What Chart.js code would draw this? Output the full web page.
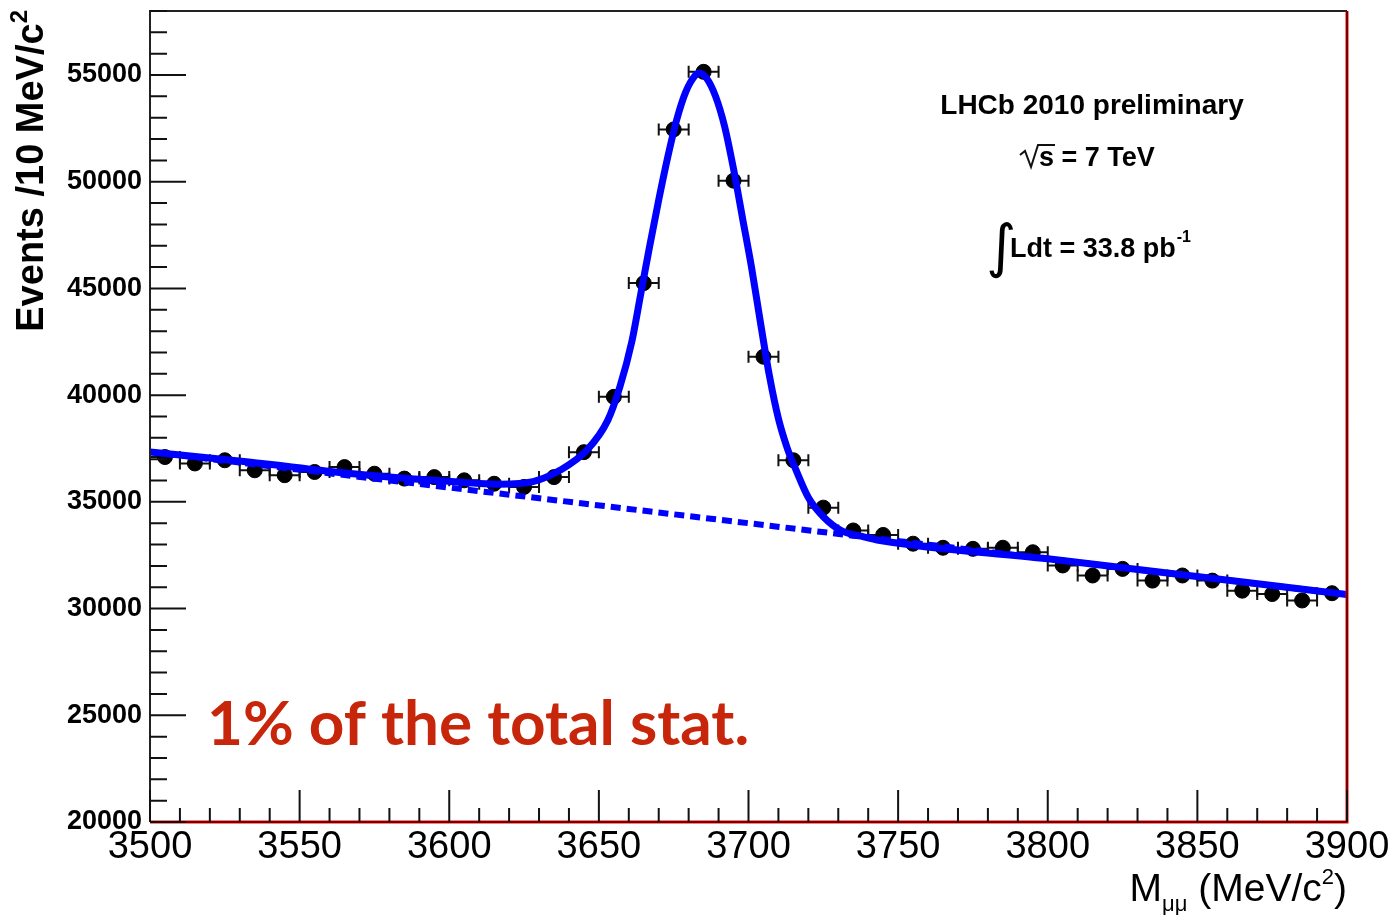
<!DOCTYPE html>
<html>
<head>
<meta charset="utf-8">
<script src="https://cdn.jsdelivr.net/npm/chart.js@4.4.1/dist/chart.umd.min.js"></script>
<style>
  body { margin: 0; background: #fff; }
  #wrap { width: 1396px; height: 915px; position: relative; }
</style>
</head>
<body>
<div id="wrap"><canvas id="massChart"></canvas></div>
<script>
// data (bin centres, 10 MeV bins)
const massBins = [3505, 3515, 3525, 3535, 3545, 3555, 3565, 3575, 3585, 3595,
                  3605, 3615, 3625, 3635, 3645, 3655, 3665, 3675, 3685, 3695,
                  3705, 3715, 3725, 3735, 3745, 3755, 3765, 3775, 3785, 3795,
                  3805, 3815, 3825, 3835, 3845, 3855, 3865, 3875, 3885, 3895];
const events = [37100, 36800, 36950, 36480, 36250, 36400, 36630, 36320, 36090, 36160,
                36010, 35850, 35700, 36160, 37330, 39920, 45250, 52450, 55150, 50050,
                41800, 36950, 34730, 33660, 33450, 33040, 32850, 32800, 32850, 32640,
                32020, 31550, 31860, 31310, 31550, 31310, 30840, 30680, 30380, 30720];

// total fit curve
const fitMass = [3500, 3533, 3567, 3595, 3617, 3628, 3637, 3646, 3653, 3657,
                 3661, 3664, 3667, 3670, 3673, 3676, 3679, 3682, 3683.5, 3686,
                 3689, 3692, 3695, 3698, 3701, 3704, 3707, 3710, 3713, 3716,
                 3720, 3725, 3731, 3738, 3744, 3800, 3900];
const fitEvents = [37340, 36870, 36330, 36010, 35830, 35950, 36480, 37420, 38830, 40380,
                   42500, 44750, 47000, 49150, 51150, 52900, 54200, 54950, 55100, 54850,
                   54000, 52600, 50600, 48300, 46000, 43400, 40900, 38900, 37500, 36450,
                   35200, 34300, 33650, 33380, 33190, 32330, 30660];

// background component (dashed)
const bkgMass = [3500, 3900];
const bkgEvents = [37340, 30660];

const xTicks = [3500, 3550, 3600, 3650, 3700, 3750, 3800, 3850, 3900];
const yTicks = [20000, 25000, 30000, 35000, 40000, 45000, 50000, 55000];

const BLUE = '#0000ff';
const RED = '#c8260a';

const points = massBins.map((m, i) => ({ x: m, y: events[i] }));
const fitLine = fitMass.map((m, i) => ({ x: m, y: fitEvents[i] }));
const bkgLine = bkgMass.map((m, i) => ({ x: m, y: bkgEvents[i] }));

// error bars, frame, inward ticks and the text labels
const rootStyle = {
    id: 'rootStyle',
    beforeDatasetsDraw(chart) {
        const { ctx, scales: { x, y } } = chart;
        ctx.save();
        ctx.strokeStyle = '#111';
        ctx.lineWidth = 2;
        massBins.forEach((m, i) => {
            const x0 = x.getPixelForValue(m - 5);
            const x1 = x.getPixelForValue(m + 5);
            const py = y.getPixelForValue(events[i]);
            ctx.beginPath();
            ctx.moveTo(x0, py); ctx.lineTo(x1, py);
            ctx.moveTo(x0, py - 6); ctx.lineTo(x0, py + 6);
            ctx.moveTo(x1, py - 6); ctx.lineTo(x1, py + 6);
            ctx.stroke();
        });
        ctx.restore();
    },
    afterDraw(chart) {
        const { ctx, chartArea: a, scales: { x, y } } = chart;
        ctx.save();

        // frame
        ctx.strokeStyle = '#222';
        ctx.lineWidth = 2;
        ctx.beginPath();
        ctx.moveTo(a.left, a.bottom); ctx.lineTo(a.left, a.top); ctx.lineTo(a.right, a.top);
        ctx.stroke();
        ctx.strokeStyle = '#f00000';
        ctx.lineWidth = 3;
        ctx.beginPath();
        ctx.moveTo(a.left, a.bottom); ctx.lineTo(a.right, a.bottom); ctx.lineTo(a.right, a.top);
        ctx.stroke();
        ctx.strokeStyle = '#000';
        ctx.lineWidth = 1;
        ctx.stroke();

        // ticks (inside the frame)
        ctx.lineWidth = 2;
        ctx.strokeStyle = '#111';
        ctx.beginPath();
        for (let v = 20000; v <= 58000; v += 1000) {
            const py = y.getPixelForValue(v);
            const len = v % 5000 === 0 ? 36 : 17;
            ctx.moveTo(a.left, py); ctx.lineTo(a.left + len, py);
        }
        for (let m = 3500; m <= 3900; m += 10) {
            const px = x.getPixelForValue(m);
            const len = m % 50 === 0 ? 32 : 14;
            ctx.moveTo(px, a.bottom); ctx.lineTo(px, a.bottom - len);
        }
        ctx.stroke();

        ctx.fillStyle = '#000';
        ctx.textBaseline = 'alphabetic';

        // y axis title, reading upwards, ending at the top
        ctx.save();
        ctx.translate(43, 10);
        ctx.rotate(-Math.PI / 2);
        ctx.font = 'bold 24px "Liberation Sans"';
        const supW = ctx.measureText('2').width;
        ctx.textAlign = 'right';
        ctx.fillText('2', 0, -16);
        ctx.font = 'bold 38px "Liberation Sans"';
        ctx.fillText('Events /10 MeV/c', -supW, 0);
        ctx.restore();

        // x axis title, right aligned
        const parts = [
            ['M', '39px "Liberation Sans"', 0],
            ['\u03bc\u03bc', '22px "Liberation Sans"', 10],
            [' (MeV/c', '39px "Liberation Sans"', 0],
            ['2', '22px "Liberation Sans"', -17],
            [')', '39px "Liberation Sans"', 0]
        ];
        let total = 0;
        parts.forEach(p => { ctx.font = p[1]; total += ctx.measureText(p[0]).width; });
        let cx = a.right - total;
        ctx.textAlign = 'left';
        parts.forEach(p => {
            ctx.font = p[1];
            ctx.fillText(p[0], cx, 901 + p[2]);
            cx += ctx.measureText(p[0]).width;
        });

        // labels in the plot
        ctx.textAlign = 'center';
        ctx.font = 'bold 28px "Liberation Sans"';
        ctx.fillText('LHCb 2010 preliminary', 1092, 114);

        ctx.textAlign = 'left';
        ctx.font = 'bold 27px "Liberation Sans"';
        const sW = ctx.measureText('s').width;
        ctx.lineWidth = 2;
        ctx.beginPath();
        ctx.moveTo(1020, 155); ctx.lineTo(1025, 151); ctx.lineTo(1031, 167); ctx.lineTo(1038, 145);
        ctx.lineTo(1039 + sW + 1, 145);
        ctx.stroke();
        ctx.fillText('s = 7 TeV', 1039, 166);

        ctx.font = '58px "DejaVu Sans"';
        ctx.fillText('\u222b', 986, 266);
        ctx.font = 'bold 27px "Liberation Sans"';
        ctx.fillText('Ldt = 33.8 pb', 1010, 257);
        const ldW = ctx.measureText('Ldt = 33.8 pb').width;
        ctx.font = 'bold 16px "Liberation Sans"';
        ctx.fillText('-1', 1010 + ldW + 1, 242);

        // red note
        const note = '1% of the total stat.';
        ctx.font = 'bold 60px Lato';
        const w60 = ctx.measureText(note).width;
        const size = Math.round(60 * 538 / w60);
        ctx.font = 'bold ' + size + 'px Lato';
        ctx.fillStyle = RED;
        ctx.fillText(note, 207, 745);

        ctx.restore();
    }
};

const ctx = document.getElementById('massChart').getContext('2d');
const chart = new Chart(ctx, {
    type: 'scatter',
    data: {
        datasets: [
            {
                label: 'fit',
                data: fitLine,
                showLine: true,
                borderColor: BLUE,
                borderWidth: 7,
                pointRadius: 0,
                cubicInterpolationMode: 'monotone',
                order: 0
            },
            {
                label: 'background',
                data: bkgLine,
                showLine: true,
                borderColor: BLUE,
                borderWidth: 6,
                borderDash: [10, 6],
                pointRadius: 0,
                order: 1
            },
            {
                label: 'data',
                data: points,
                backgroundColor: '#000',
                borderColor: '#000',
                pointRadius: 7.5,
                order: 2
            }
        ]
    },
    options: {
        responsive: true,
        maintainAspectRatio: false,
        animation: false,
        layout: { padding: { top: 11, right: 49, left: 0, bottom: 0 } },
        plugins: { legend: { display: false }, tooltip: { enabled: false } },
        scales: {
            x: {
                type: 'linear',
                min: 3500,
                max: 3900,
                grid: { display: false, drawTicks: false },
                border: { display: false },
                afterBuildTicks: s => { s.ticks = xTicks.map(v => ({ value: v })); },
                afterFit: s => { s.height = 93; s.paddingLeft = 0; s.paddingRight = 0; },
                ticks: {
                    color: '#000',
                    padding: 3,
                    maxRotation: 0,
                    font: { family: '"Liberation Sans"', size: 38 },
                    callback: v => String(v)
                }
            },
            y: {
                min: 20000,
                max: 58000,
                grid: { display: false, drawTicks: false },
                border: { display: false },
                afterBuildTicks: s => { s.ticks = yTicks.map(v => ({ value: v })); },
                afterFit: s => { s.width = 150; s.paddingTop = 0; s.paddingBottom = 0; },
                ticks: {
                    color: '#000',
                    padding: 8,
                    font: { family: '"Liberation Sans"', size: 27, weight: 'bold' },
                    callback: v => String(v)
                }
            }
        }
    },
    plugins: [rootStyle]
});
</script>
</body>
</html>
